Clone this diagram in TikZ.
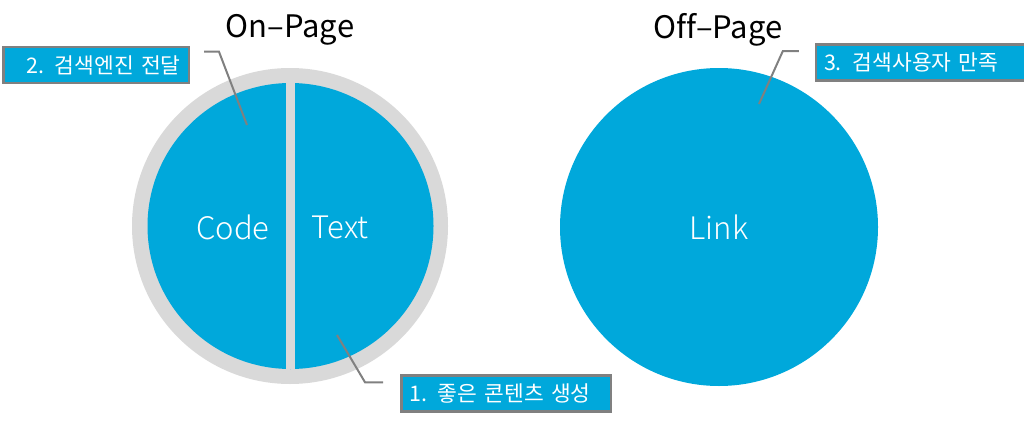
\documentclass[tikz,border=0pt]{standalone}
\usepackage{fontspec}
\setmainfont{Noto Sans CJK KR}[Ligatures=NoCommon]
\newfontfamily\lightfont{Noto Sans CJK KR Light}[Ligatures=NoCommon]
\usetikzlibrary{calc}
\definecolor{seoblue}{RGB}{0,168,219}
\definecolor{ringgray}{RGB}{217,217,217}
\definecolor{leadgray}{RGB}{128,128,128}
\begin{document}
\begin{tikzpicture}[x=1pt,y=-1pt,
	title/.style={font=\fontsize{31}{33}\selectfont},
	part/.style={text=white,font=\lightfont\fontsize{31}{33}\selectfont},
	tag/.style={draw=leadgray,line width=2.5pt,fill=seoblue,text=white,inner xsep=8pt,
		minimum height=36pt,font=\fontsize{21.5}{24}\selectfont},
	leader/.style={draw=leadgray,line width=2pt}]
			\useasboundingbox(0,0)rectangle(1024,420);
			% On-Page
			\node[circle,fill=ringgray,inner sep=0pt,minimum size=316pt](ring)at(290,226){};
			\node[circle,fill=seoblue,inner sep=0pt,minimum size=286pt](inner)at(290.5,226){};
			\fill[ringgray]([xshift=-4.5pt]inner.north)rectangle([xshift=4.5pt]inner.south);
			\node[part](code)at(233,227){Code};
			\node[part](text)at(340,227){Text};
			\node[title](on)at(290,30){On–Page};
			% Off-Page
			\node[circle,fill=seoblue,inner sep=0pt,minimum size=318pt](off)at(719,227){};
			\node[part](link)at(719,227){Link};
			\node[title](offt)at(718,30){Off–Page};
			% labels
			\node[tag,text width=169.5pt,align=right](t2)at(96,65){2. 검색엔진 전달};
			\node[tag,text width=193.5pt,align=left](t1)at(506,393.5){1. 좋은 콘텐츠 생성};
			\node[tag,text width=194pt,align=left](t3)at(921,62.5){3. 검색사용자 만족};
			\coordinate(p2)at(247,125);
			\coordinate(p1)at(337,335);
			\coordinate(p3)at(759,104);
			\draw[leader](t2.north east)++(14,6)--++(15,0)--(p2);
			\draw[leader](t1.north west)++(-17,8)--++(-18,0)--(p1);
			\draw[leader](t3.north west)++(-16,8)--++(-16,0)--(p3);
		\end{tikzpicture}
\end{document}
